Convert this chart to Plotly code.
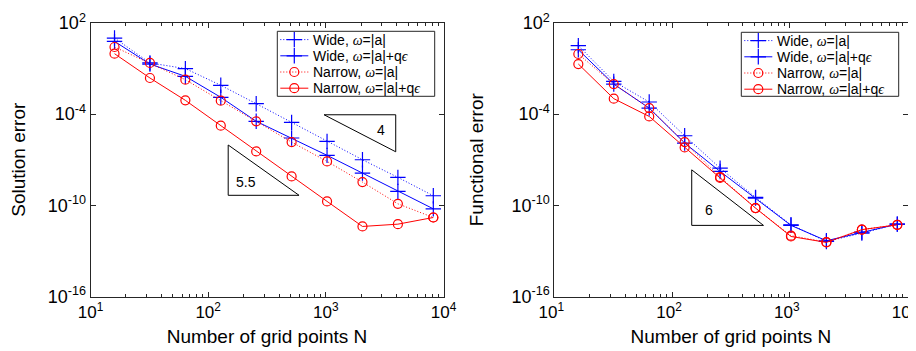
import math
import plotly.graph_objects as go

# ---------------- data ----------------
N = [16, 32, 64, 128, 256, 512, 1024, 2048, 4096, 8192]

# left panel: solution error (log10 values)
sol_wide_a = [1.01, -0.63, -1.00, -2.10, -3.31, -4.54, -5.79, -7.00, -8.16, -9.37]
sol_wide_aq = [0.79, -0.70, -1.51, -2.89, -4.47, -5.57, -6.71, -7.88, -9.08, -10.23]
sol_narrow_a = [0.42, -0.63, -1.73, -3.11, -4.47, -5.84, -7.11, -8.47, -9.90, -10.80]
sol_narrow_aq = [-0.02, -1.62, -3.09, -4.76, -6.45, -8.10, -9.74, -11.39, -11.24, -10.80]

# right panel: functional error (log10 values)
fun_wide_a = [0.51, -1.84, -3.20, -5.42, -7.55, -9.48, -11.28, -12.38, -11.83, -11.24]
fun_wide_aq = [0.24, -2.02, -3.60, -5.90, -7.77, -9.52, -11.32, -12.33, -11.76, -11.24]
fun_narrow_a = [-0.04, -2.02, -3.60, -5.84, -8.14, -10.18, -12.00, -12.42, -11.60, -11.28]
fun_narrow_aq = [-0.70, -2.98, -4.15, -6.19, -8.20, -10.18, -12.05, -12.44, -11.60, -11.28]

OM = "<span style=\"font-family:'Liberation Serif'\"><i>ω</i></span>"
EP = "<span style=\"font-family:'Liberation Serif'\"><i>ϵ</i></span>"
series_names = [
    f"Wide, {OM}=|a|",
    f"Wide, {OM}=|a|+q{EP}",
    f"Narrow, {OM}=|a|",
    f"Narrow, {OM}=|a|+q{EP}",
]

# slope triangles: slope, x-extent, reference y, corner type, label and its place
tri_left_slopes = [4, 5.5]
tri_left_x0 = [966, 148]
tri_left_x1 = [3926, 592]
tri_left_yref = [9.12e-5, 4.57e-10]
tri_left_kind = ["upper", "lower"]
tri_left_label = ["4", "5.5"]
tri_left_lx = [2924, 208]
tri_left_ly = [9.5e-6, 3.4e-9]

tri_right_slopes = [6]
tri_right_x0 = [147]
tri_right_x1 = [598]
tri_right_yref = [4.79e-12]
tri_right_kind = ["lower"]
tri_right_label = ["6"]
tri_right_lx = [207]
tri_right_ly = [4.7e-11]

x_tickvals = [10, 100, 1000, 10000]
x_ticktext = ["10<sup>1</sup>", "10<sup>2</sup>", "10<sup>3</sup>", "10<sup>4</sup>"]
y_tickvals = [1e2, 1e-4, 1e-10, 1e-16]
y_ticktext = ["10<sup>2</sup>", "10<sup>-4</sup>", "10<sup>-10</sup>", "10<sup>-16</sup>"]

# ---------------- figure ----------------
W, H = 916, 351
BLUE = "rgb(0,0,255)"
RED = "rgb(255,0,0)"
AX = "#262626"
FONT = "Liberation Sans, Arial, Helvetica, sans-serif"
DOTTED = "1px,2px"
styles = [
    dict(color=BLUE, dash=DOTTED, symbol="cross-thin-open", size=11),
    dict(color=BLUE, dash="solid", symbol="cross-thin-open", size=11),
    dict(color=RED, dash=DOTTED, symbol="circle-open", size=9),
    dict(color=RED, dash="solid", symbol="circle-open", size=9),
]


def line_style(st):
    return dict(color=st["color"], dash=st["dash"], width=1)


def marker_style(st):
    return dict(symbol=st["symbol"], size=st["size"], color=st["color"],
                line=dict(color=st["color"], width=1.2))


fig = go.Figure()

panels = [
    ("x", "y", [sol_wide_a, sol_wide_aq, sol_narrow_a, sol_narrow_aq]),
    ("x2", "y2", [fun_wide_a, fun_wide_aq, fun_narrow_a, fun_narrow_aq]),
]
for xa, ya, data in panels:
    for name, vals, st in zip(series_names, data, styles):
        fig.add_trace(go.Scatter(
            x=N, y=[10 ** v for v in vals], name=name, mode="lines+markers",
            xaxis=xa, yaxis=ya, showlegend=False,
            line=line_style(st), marker=marker_style(st),
        ))


def add_triangles(xa, ya, slopes, x0s, x1s, yrefs, kinds, labels, lxs, lys):
    for s, x0, x1, yr, kind, lab, lx, ly in zip(slopes, x0s, x1s, yrefs, kinds, labels, lxs, lys):
        f = (x1 / x0) ** s
        if kind == "upper":
            xs = [x0, x1, x1, x0]
            ys = [yr, yr, yr / f, yr]
        else:
            xs = [x0, x0, x1, x0]
            ys = [yr * f, yr, yr, yr * f]
        fig.add_trace(go.Scatter(x=xs, y=ys, mode="lines", xaxis=xa, yaxis=ya,
                                 line=dict(color="black", width=1), showlegend=False,
                                 hoverinfo="skip"))
        fig.add_annotation(x=math.log10(lx), y=math.log10(ly),
                           xref=xa, yref=ya, text=lab, showarrow=False,
                           font=dict(family=FONT, size=14, color="black"))


add_triangles("x", "y", tri_left_slopes, tri_left_x0, tri_left_x1, tri_left_yref,
              tri_left_kind, tri_left_label, tri_left_lx, tri_left_ly)
add_triangles("x2", "y2", tri_right_slopes, tri_right_x0, tri_right_x1, tri_right_yref,
              tri_right_kind, tri_right_label, tri_right_lx, tri_right_ly)

# ---------------- compact legends (MATLAB style), on a pixel overlay axis ----------------
legend_boxes = [(269.3, 23.3, 426.7, 88.3), (733.3, 24.3, 890.7, 88.3)]
ROW0, ROWSTEP = 8.3, 16.2
for (L, T, R, B) in legend_boxes:
    fig.add_trace(go.Scatter(x=[L, R, R, L, L], y=[T, T, B, B, T], mode="lines",
                             fill="toself", fillcolor="white",
                             line=dict(color=AX, width=1),
                             xaxis="x3", yaxis="y3", showlegend=False, hoverinfo="skip"))
    for i, (name, st) in enumerate(zip(series_names, styles)):
        yy = T + ROW0 + i * ROWSTEP
        fig.add_trace(go.Scatter(x=[L + 3, L + 31], y=[yy, yy], mode="lines",
                                 line=line_style(st), xaxis="x3", yaxis="y3",
                                 showlegend=False, hoverinfo="skip"))
        fig.add_trace(go.Scatter(x=[L + 17], y=[yy], mode="markers",
                                 marker=marker_style(st), xaxis="x3", yaxis="y3",
                                 showlegend=False, hoverinfo="skip"))
        fig.add_annotation(x=(L + 34) / W, y=1 - yy / H, xref="paper", yref="paper",
                           text=name, showarrow=False, xanchor="left", yanchor="middle",
                           font=dict(family=FONT, size=14, color="black"))

ydom = [1 - 288.5 / H, 1 - 15 / H]

axis_common = dict(
    type="log", showgrid=False, zeroline=False, showline=True, mirror="ticks",
    linecolor=AX, linewidth=1, ticks="inside", tickcolor=AX,
    ticklen=5, tickfont=dict(family=FONT, size=17, color="black"),
    automargin=False, tickmode="array",
)
xaxis_common = dict(axis_common, range=[1, 4], tickvals=x_tickvals, ticktext=x_ticktext,
                    minor=dict(ticks="inside", ticklen=3, tickcolor=AX,
                               dtick="D1", showgrid=False),
                    title=dict(text="Number of grid points N", standoff=8,
                               font=dict(family=FONT, size=19, color="black")))
yaxis_common = dict(axis_common, range=[-16, 2], tickvals=y_tickvals, ticktext=y_ticktext,
                    tickfont=dict(family=FONT, size=18, color="black"))

fig.update_layout(
    width=W, height=H,
    margin=dict(l=0, r=0, t=0, b=0),
    paper_bgcolor="white", plot_bgcolor="rgba(0,0,0,0)",
    font=dict(family=FONT, color="black"),
    showlegend=False,
    xaxis=dict(xaxis_common, domain=[82.5 / W, 435.5 / W], anchor="y"),
    yaxis=dict(yaxis_common, domain=ydom, anchor="x",
               title=dict(text="Solution error", standoff=24,
                          font=dict(family=FONT, size=19, color="black"))),
    xaxis2=dict(xaxis_common, domain=[546.3 / W, 899.5 / W], anchor="y2",
                ticklabelshift=-3),
    yaxis2=dict(yaxis_common, domain=ydom, anchor="x2",
                title=dict(text="Functional error", standoff=22,
                           font=dict(family=FONT, size=19, color="black"))),
    xaxis3=dict(domain=[0, 1], range=[0, W], visible=False, fixedrange=True, anchor="y3"),
    yaxis3=dict(domain=[0, 1], range=[H, 0], visible=False, fixedrange=True, anchor="x3"),
)

fig.write_html("out.html")
